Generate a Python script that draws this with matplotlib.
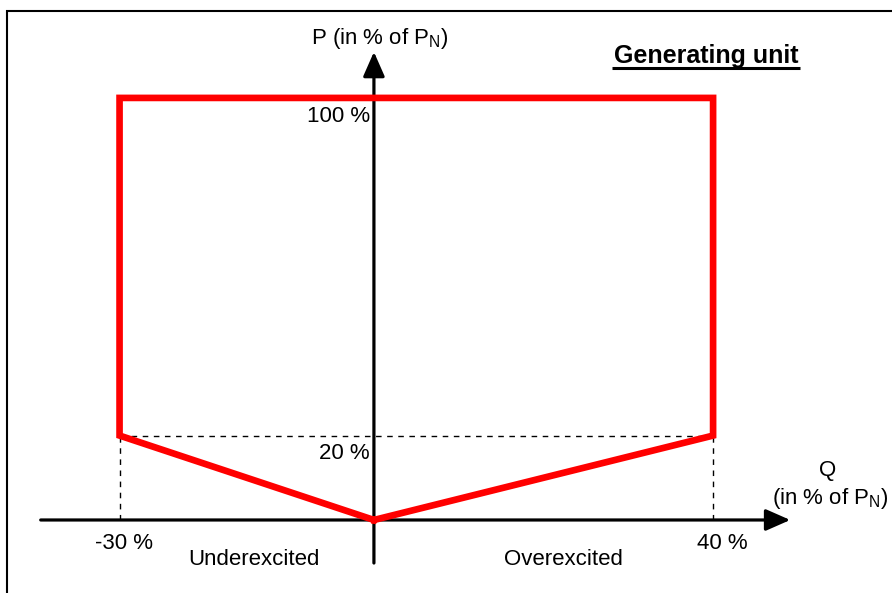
import matplotlib.pyplot as plt
from matplotlib.patches import Rectangle

plt.rcParams['font.family'] = ['Liberation Sans', 'DejaVu Sans']

# operating range of the generating unit (Q and P in % of P_N)
q_limit = [0, -30, -30, 40, 40, 0]
p_limit = [0, 20, 100, 100, 20, 0]
q_min, q_max = -30, 40
p_low, p_max = 20, 100

fig = plt.figure(figsize=(8.92, 5.93), dpi=100)
ax = fig.add_axes([0, 0, 1, 1])
ax.set_xlim(-44.1, 61.1)
ax.set_ylim(-17.3, 123.2)
ax.axis('off')

# frame around the picture
fig.patches.append(Rectangle((7 / 892, -0.1), 1.2, 1 - 11 / 593 + 0.1, transform=fig.transFigure,
                             fill=False, lw=1.5, ec='black'))

# axes with arrows
ax.annotate('', xy=(49.1, 0), xytext=(-39.3, 0),
            arrowprops=dict(arrowstyle='-|>,head_length=0.75,head_width=0.33', lw=2.3,
                            color='black', mutation_scale=20, shrinkA=0, shrinkB=0))
ax.annotate('', xy=(0, 110.9), xytext=(0, -10.2),
            arrowprops=dict(arrowstyle='-|>,head_length=0.75,head_width=0.33', lw=2.3,
                            color='black', mutation_scale=20, shrinkA=0, shrinkB=0))

# dashed guides
ax.plot([q_min, q_max], [p_low, p_low], color='black', lw=1, ls=(0, (4, 4)))
ax.plot([q_min, q_min], [0, p_low], color='black', lw=1, ls=(0, (4, 4)))
ax.plot([q_max, q_max], [0, p_low], color='black', lw=1, ls=(0, (4, 4)))

# limit curve
ax.plot(q_limit, p_limit, color='#ff0000', lw=4.8, solid_joinstyle='miter', zorder=5)

fs = 16
ax.text(0.7, 111.2, 'P (in % of P$_\\mathregular{N}$)', ha='center', va='bottom', fontsize=fs)
ax.text(-0.5, 98.2, '100 %', ha='right', va='top', fontsize=fs)
ax.text(-0.5, 18.2, '20 %', ha='right', va='top', fontsize=fs)
ax.text(q_min + 0.5, -3, '-30 %', ha='center', va='top', fontsize=fs)
ax.text(q_max + 1.1, -3, '40 %', ha='center', va='top', fontsize=fs)
ax.text(-14.1, -6.8, 'Underexcited', ha='center', va='top', fontsize=fs)
ax.text(22.3, -6.8, 'Overexcited', ha='center', va='top', fontsize=fs)
ax.text(53.5, 11.8, 'Q', ha='center', va='center', fontsize=fs)
ax.text(53.8, 5.2, '(in % of P$_\\mathregular{N}$)', ha='center', va='center', fontsize=fs)

ax.text(39.2, 108.2, 'Generating unit', ha='center', va='baseline', fontsize=18, fontweight='bold')
ax.plot([28.1, 50.3], [107.1, 107.1], color='black', lw=2.2, solid_capstyle='butt')

fig.savefig('out.png', dpi=100)
